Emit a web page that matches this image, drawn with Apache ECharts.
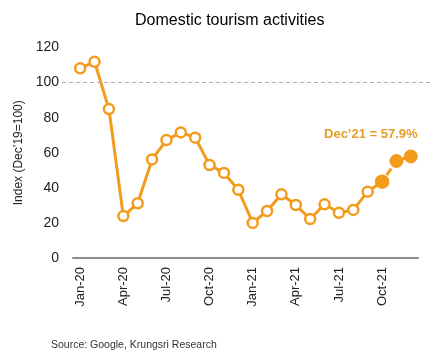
<!DOCTYPE html>
<html>
<head>
<meta charset="utf-8">
<script src="https://cdn.jsdelivr.net/npm/echarts@6/dist/echarts.min.js"></script>
<style>html,body{margin:0;padding:0;background:#fff}#c{width:435px;height:356px}</style>
</head>
<body>
<div id="c"></div>
<script>
var months = ['Jan-20','Feb-20','Mar-20','Apr-20','May-20','Jun-20','Jul-20','Aug-20','Sep-20','Oct-20','Nov-20','Dec-20',
              'Jan-21','Feb-21','Mar-21','Apr-21','May-21','Jun-21','Jul-21','Aug-21','Sep-21','Oct-21','Nov-21','Dec-21'];
var values = [108.1, 111.9, 84.9, 23.9, 31.2, 56.2, 67.2, 71.6, 68.6, 53.0, 48.5, 38.9,
              20.0, 26.8, 36.3, 30.2, 22.2, 30.6, 25.8, 27.4, 37.8, 43.5, 55.3, 57.9];
var filledFrom = 21;      // Oct-21 onward drawn as filled markers
var dashedSegStart = 21;  // Oct-21 -> Nov-21 segment dashed
var refLevel = 100;
var yTicks = [0, 20, 40, 60, 80, 100, 120];
var annotation = "Dec\u201921 = 57.9%";

var ORANGE = '#F39B1B';
var FONT = 'Liberation Sans';

function sub(from, to) {
  return values.map(function (v, i) { return (i >= from && i <= to) ? v : null; });
}

var solidA = sub(0, dashedSegStart).map(function (v, i) {
  if (v === null) return null;
  if (i >= filledFrom) return { value: v, symbolSize: 12, itemStyle: { color: ORANGE, borderColor: ORANGE } };
  return v;
});
var dashed = sub(dashedSegStart, dashedSegStart + 1);
var solidB = sub(dashedSegStart + 1, values.length - 1).map(function (v, i) {
  if (v === null) return null;
  var d = { value: v, symbolSize: 13, itemStyle: { color: ORANGE, borderColor: ORANGE } };
  if (i === values.length - 1) {
    d.label = { show: true, formatter: annotation, position: 'top', offset: [-40, -4],
      color: '#E39E2A', fontFamily: FONT, fontSize: 13, fontWeight: 'bold' };
  }
  return d;
});

var chart = echarts.init(document.getElementById('c'), null, { renderer: 'canvas' });
chart.setOption({
  animation: false,
  backgroundColor: '#fff',
  title: [
    { text: 'Domestic tourism activities', left: 130, top: 8,
      textStyle: { fontFamily: FONT, fontSize: 16, fontWeight: 'normal', color: '#000' } },
    { text: 'Source: Google, Krungsri Research', left: 46, top: 335,
      textStyle: { fontFamily: FONT, fontSize: 10.5, fontWeight: 'normal', color: '#333' } }
  ],
  grid: [
    { left: 73, right: 17, top: 47.5, bottom: 98 },
    { left: 62, right: 3, top: 47.5, bottom: 98 }
  ],
  xAxis: [
    { gridIndex: 0, type: 'category', data: months, boundaryGap: true,
      axisLine: { lineStyle: { color: '#8c8c8c', width: 2 } },
      axisTick: { show: false },
      axisLabel: { interval: 2, rotate: 90, margin: 9, color: '#222', fontFamily: FONT, fontSize: 13 } },
    { gridIndex: 1, type: 'value', min: 0, max: 1, show: false }
  ],
  yAxis: [
    { gridIndex: 0, type: 'value', min: yTicks[0], max: yTicks[yTicks.length - 1], interval: 20,
      name: 'Index (Dec\u201919=100)', nameLocation: 'middle', nameGap: 48,
      nameTextStyle: { fontFamily: FONT, fontSize: 12, color: '#222' },
      axisLine: { show: false }, axisTick: { show: false }, splitLine: { show: false },
      axisLabel: { margin: 14, color: '#222', fontFamily: FONT, fontSize: 14 } },
    { gridIndex: 1, type: 'value', min: yTicks[0], max: yTicks[yTicks.length - 1], show: false }
  ],
  series: [
    { type: 'line', xAxisIndex: 1, yAxisIndex: 1, data: [], silent: true,
      markLine: { symbol: 'none', silent: true, label: { show: false },
        lineStyle: { color: '#b0b0b0', type: [4, 3], width: 1 },
        data: [{ yAxis: refLevel }] } },
    { type: 'line', data: solidA, symbol: 'circle', symbolSize: 10, showAllSymbol: true,
      lineStyle: { color: ORANGE, width: 3 },
      itemStyle: { color: '#fff', borderColor: ORANGE, borderWidth: 2.5 }, z: 3 },
    { type: 'line', data: dashed, showSymbol: false, symbol: 'none',
      lineStyle: { color: ORANGE, width: 3, type: [8, 8], dashOffset: 8 }, z: 2 },
    { type: 'line', data: solidB, symbol: 'circle', showAllSymbol: true,
      lineStyle: { color: ORANGE, width: 3 },
      itemStyle: { color: ORANGE, borderColor: ORANGE, borderWidth: 1 }, z: 3 }
  ]
});
</script>
</body>
</html>
